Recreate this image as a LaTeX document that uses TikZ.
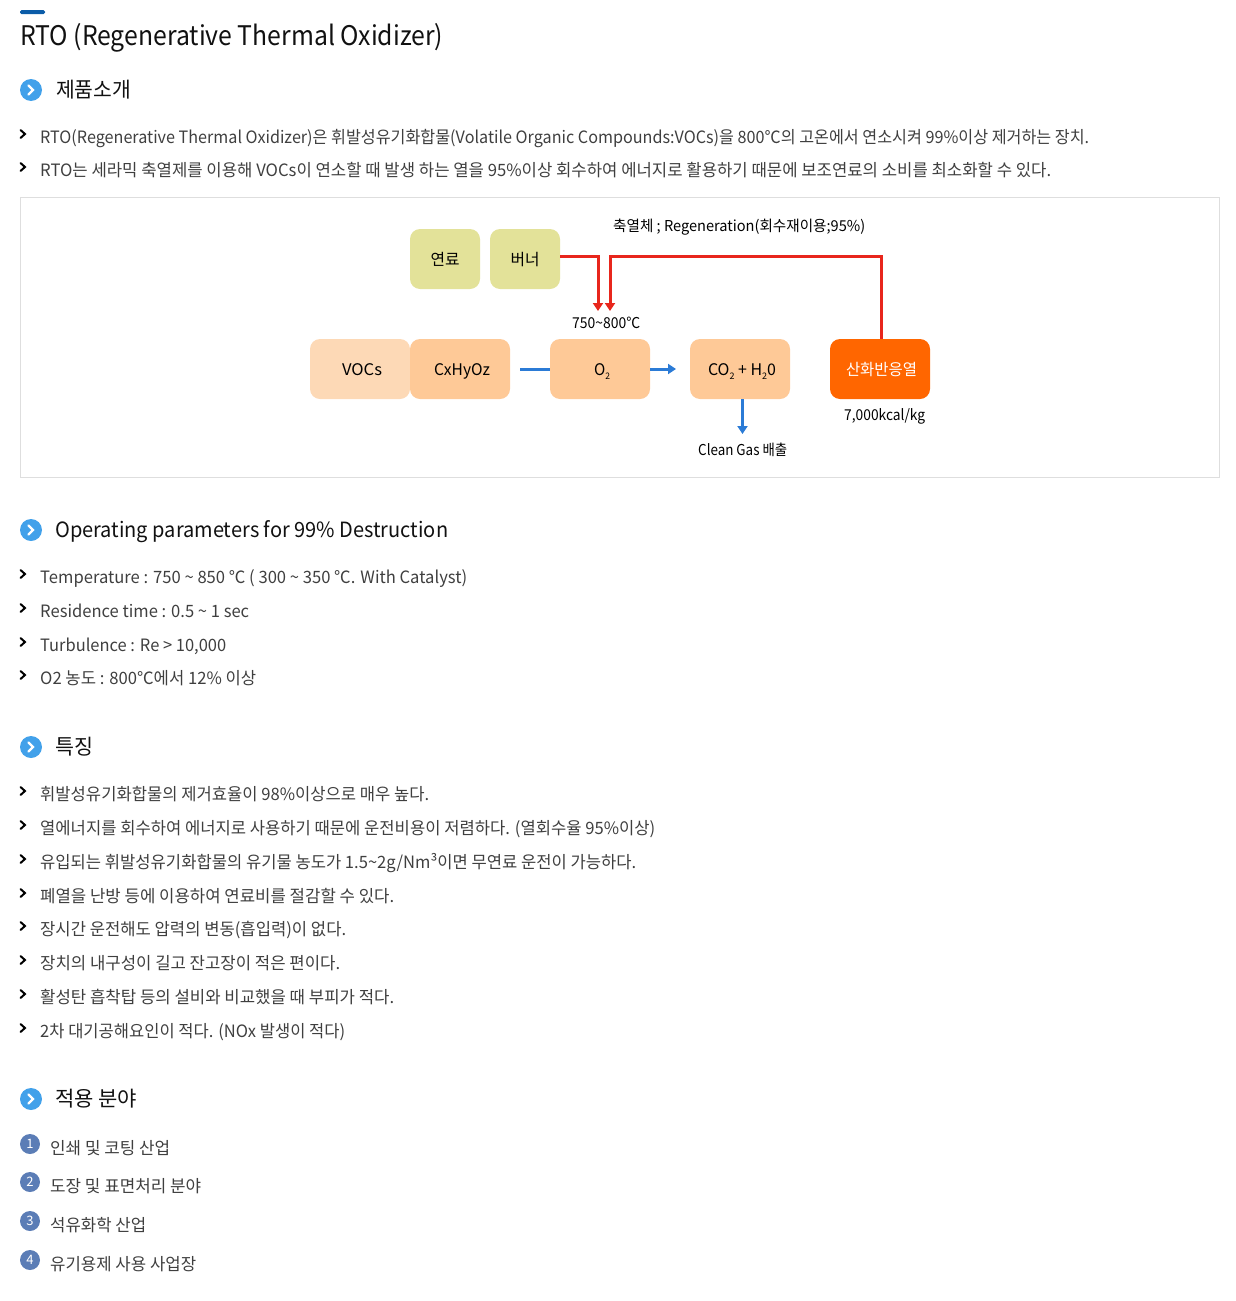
\documentclass[tikz,border=0pt]{standalone}
\usepackage{fontspec}
\usepackage{graphicx}
\setmainfont{Noto Sans CJK KR}
\usetikzlibrary{arrows.meta}
\definecolor{body}{HTML}{3F3F3F}
\definecolor{head}{HTML}{111111}
\definecolor{bar}{HTML}{0B5CA8}
\definecolor{dotblue}{HTML}{42A1EA}
\definecolor{numblue}{HTML}{5B7DB6}
\definecolor{frame}{HTML}{DEDEDE}
\definecolor{yel}{HTML}{E3E299}
\definecolor{pale}{HTML}{FDD9B6}
\definecolor{org}{HTML}{FEC997}
\definecolor{hot}{HTML}{FF6600}
\definecolor{redl}{HTML}{E8261C}
\definecolor{bluel}{HTML}{2B7BD6}
\newbox\fitbox
\newcommand\fitw[2]{\setbox\fitbox\hbox{#2}\pgfmathsetmacro\fitr{(#1)/\wd\fitbox}\scalebox{\fitr}[1]{\copy\fitbox}}
\newcommand\sbs[1]{\raisebox{-3.5pt}{\fontsize{9}{9}\selectfont #1}}
\newcommand\boxlab[2]{\rule[-4pt]{0pt}{21pt}\fitw{#1}{#2}}
\tikzset{
 x=1pt,y=-1pt,
 txt/.style={inner sep=0pt,anchor=base west,text=body},
 boxn/.style={rounded corners=10pt,minimum width=100pt,minimum height=60pt,inner sep=0pt,text=black,font=\fontsize{16}{18}\selectfont},
 small/.style={minimum width=70pt},
 lab/.style={inner sep=0pt,anchor=base west,text=black},
 redarrow/.style={draw=redl,line width=3pt,-{Triangle[length=8pt,width=10pt]}},
 bluearrow/.style={draw=bluel,line width=3pt,-{Triangle[length=8pt,width=10pt]}},
 chev/.style={draw=#1,line width=2pt,line cap=round,line join=miter},
}
% name, x left, x right, baseline, size, text
\newcommand\tx[7][txt]{\node[#1] (#2) at (#3,#5) {\fontsize{#6}{#6}\selectfont\fitw{#4-#3}{#7}};}
\newcommand\headdot[2]{\fill[dotblue] (31,#1) circle (11);\draw[chev=white,line width=2.4pt] (28.5,#1-4.5) -- (33,#1) -- (28.5,#1+4.5);}
\newcommand\blt[1]{\draw[chev=black] (20.5,#1-13) -- (25,#1-9) -- (20.5,#1-5);}
\newcommand\numdot[3]{\node[circle,fill=numblue,minimum size=20pt,inner sep=0pt,text=white,font=\fontsize{13}{13}\selectfont] (#1) at (30,#2) {#3};}
\begin{document}
\begin{tikzpicture}
\useasboundingbox (0,0) rectangle (1236,1301);
\fill[bar,rounded corners=1.5pt] (20,10) rectangle (45,14);
\tx[txt,text=head]{title}{20}{443}{45}{27}{RTO (Regenerative Thermal Oxidizer)}

\headdot{90}{}
\tx[txt,text=head]{h1}{56}{131}{97}{21}{제품소개}
\blt{143}\tx{a1}{40}{1089}{143}{17}{RTO(Regenerative Thermal Oxidizer)은 휘발성유기화합물(Volatile Organic Compounds:VOCs)을 800℃의 고온에서 연소시켜 99\%이상 제거하는 장치.}
\blt{176}\tx{a2}{40}{1051}{176}{17}{RTO는 세라믹 축열제를 이용해 VOCs이 연소할 때 발생 하는 열을 95\%이상 회수하여 에너지로 활용하기 때문에 보조연료의 소비를 최소화할 수 있다.}

\draw[frame] (20.5,197.5) rectangle (1219.5,477.5);
\node[boxn,small,fill=yel] (fuel) at (445,259) {\boxlab{29}{연료}};
\node[boxn,small,fill=yel] (burner) at (525,259) {\boxlab{29}{버너}};
\node[boxn,fill=pale] (vocs) at (360,369) {\hspace*{4pt}\boxlab{40}{VOCs}};
\node[boxn,fill=org] (cxhyoz) at (460,369) {\hspace*{4pt}\boxlab{56}{CxHyOz}};
\node[boxn,fill=org] (o2) at (600,369) {\hspace*{4pt}\boxlab{16}{O\sbs{2}}};
\node[boxn,fill=org] (co2) at (740,369) {\hspace*{4pt}\boxlab{68}{CO\sbs{2} + H\sbs{2}0}};
\node[boxn,fill=hot,text=white] (heat) at (880,369) {\hspace*{3pt}\boxlab{71}{산화반응열}};
\tx[lab]{regen}{613}{865}{231}{15}{축열체 ; Regeneration(회수재이용;95\%)}
\tx[lab]{temp}{572}{640}{328}{15}{750\textasciitilde800℃}
\tx[lab]{kcal}{844}{925}{420}{15}{7,000kcal/kg}
\tx[lab]{clean}{698}{787}{455}{15}{Clean Gas 배출}
\coordinate (r1a) at (598,311);
\coordinate (r2a) at (610,311);
\coordinate (bstart) at (520,369);
\coordinate (bend1) at (676,369);
\coordinate (bend2) at (742.5,434);
\draw[redarrow] (burner.east |- 0,256.5) -| (r1a);
\draw[redarrow] (heat.north -| 881.5,0) |- (610,256.5) -- (r2a);
\draw[draw=bluel,line width=3pt] (bstart) -- (o2.west |- bstart);
\draw[bluearrow] (o2.east |- bend1) -- (bend1);
\draw[bluearrow] (bend2 |- co2.south) -- (bend2);

\headdot{530}{}
\tx[txt,text=head]{h2}{55}{448}{537}{21}{Operating parameters for 99\% Destruction}
\blt{583}\tx{b1}{40}{467}{583}{17}{Temperature : 750 \textasciitilde{} 850 ℃ ( 300 \textasciitilde{} 350 ℃. With Catalyst)}
\blt{617}\tx{b2}{40}{249}{617}{17}{Residence time : 0.5 \textasciitilde{} 1 sec}
\blt{651}\tx{b3}{40}{226}{651}{17}{Turbulence : Re > 10,000}
\blt{684}\tx{b4}{40}{256}{684}{17}{O2 농도 : 800℃에서 12\% 이상}

\headdot{747}{}
\tx[txt,text=head]{h3}{55}{93}{754}{21}{특징}
\blt{800}\tx{c1}{40}{429}{800}{17}{휘발성유기화합물의 제거효율이 98\%이상으로 매우 높다.}
\blt{834}\tx{c2}{40}{655}{834}{17}{열에너지를 회수하여 에너지로 사용하기 때문에 운전비용이 저렴하다. (열회수율 95\%이상)}
\blt{868}\tx{c3}{40}{636}{868}{17}{유입되는 휘발성유기화합물의 유기물 농도가 1.5\textasciitilde2g/Nm³이면 무연료 운전이 가능하다.}
\blt{902}\tx{c4}{40}{394}{902}{17}{폐열을 난방 등에 이용하여 연료비를 절감할 수 있다.}
\blt{935}\tx{c5}{40}{346}{935}{17}{장시간 운전해도 압력의 변동(흡입력)이 없다.}
\blt{969}\tx{c6}{40}{340}{969}{17}{장치의 내구성이 길고 잔고장이 적은 편이다.}
\blt{1003}\tx{c7}{40}{394}{1003}{17}{활성탄 흡착탑 등의 설비와 비교했을 때 부피가 적다.}
\blt{1037}\tx{c8}{40}{345}{1037}{17}{2차 대기공해요인이 적다. (NOx 발생이 적다)}

\headdot{1099}{}
\tx[txt,text=head]{h4}{55}{137}{1106}{21}{적용 분야}
\numdot{d1}{1144}{1}\tx{e1}{50}{170}{1154}{17}{인쇄 및 코팅 산업}
\numdot{d2}{1182}{2}\tx{e2}{50}{201}{1192}{17}{도장 및 표면처리 분야}
\numdot{d3}{1221}{3}\tx{e3}{50}{146}{1231}{17}{석유화학 산업}
\numdot{d4}{1260}{4}\tx{e4}{50}{196}{1270}{17}{유기용제 사용 사업장}
\end{tikzpicture}
\end{document}
